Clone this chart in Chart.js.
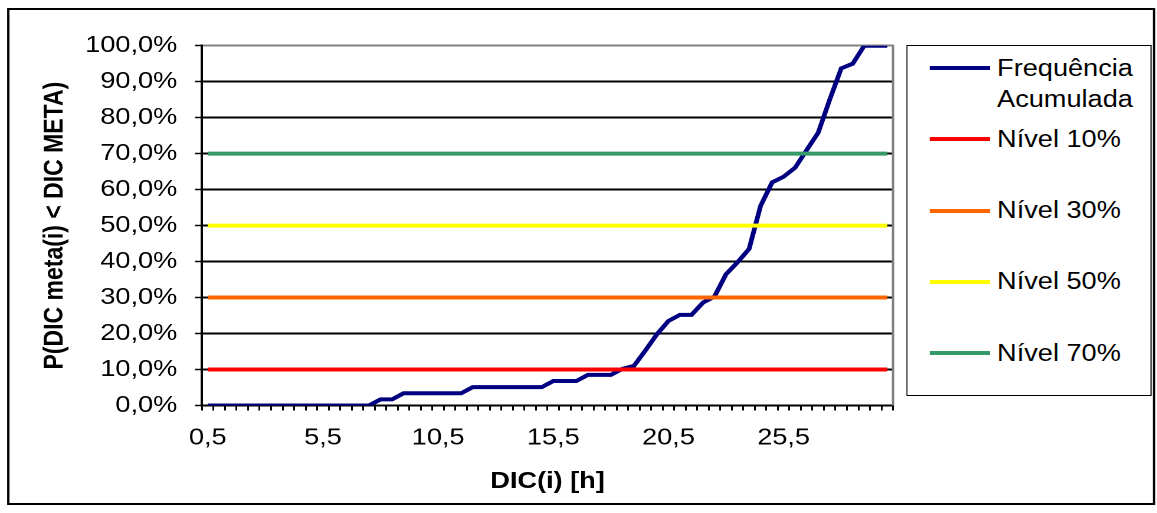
<!DOCTYPE html>
<html lang="pt">
<head>
<meta charset="utf-8">
<title>P(DIC meta(i) &lt; DIC META)</title>
<script src="https://cdn.jsdelivr.net/npm/chart.js@4.4.1/dist/chart.umd.min.js"></script>
<style>
  html, body { margin: 0; padding: 0; background: #fff; }
  /* o gráfico original está esticado na horizontal */
  #wrap { position: relative; width: 980px; height: 513px; transform: scaleX(1.18); transform-origin: 0 0;
          font-family: "Liberation Sans", Arial, sans-serif; }
  #frame { position: absolute; left: 6px; top: 8px; width: 973px; height: 497px; border: 2px solid #000; box-sizing: border-box; }
  #chartBox { position: absolute; left: 0; top: 0; width: 980px; height: 513px; }
  #legend { position: absolute; left: 768px; top: 45px; width: 208px; height: 351px; border: 1.5px solid #000;
            box-sizing: border-box; background: #fff; }
  .item { position: absolute; left: 0; right: 0; }
  .item .swatch { position: absolute; left: 19px; top: 13.5px; width: 51px; height: 4px; }
  .item .txt { position: absolute; left: 76px; right: 2px; top: 0; font-size: 23px; line-height: 31px; color: #000; }
</style>
</head>
<body>
<div id="wrap">
  <div id="frame"></div>
  <div id="chartBox"><canvas id="dicChart"></canvas></div>
  <div id="legend"></div>
</div>
<script>
const categorias = [
    '0,5', '1,0', '1,5', '2,0', '2,5', '3,0', '3,5', '4,0', '4,5', '5,0',
    '5,5', '6,0', '6,5', '7,0', '7,5', '8,0', '8,5', '9,0', '9,5', '10,0',
    '10,5', '11,0', '11,5', '12,0', '12,5', '13,0', '13,5', '14,0', '14,5', '15,0',
    '15,5', '16,0', '16,5', '17,0', '17,5', '18,0', '18,5', '19,0', '19,5', '20,0',
    '20,5', '21,0', '21,5', '22,0', '22,5', '23,0', '23,5', '24,0', '24,5', '25,0',
    '25,5', '26,0', '26,5', '27,0', '27,5', '28,0', '28,5', '29,0', '29,5', '30,0'
];

// frequência acumulada (%)
const freqAcumulada = [
    0, 0, 0, 0, 0, 0, 0, 0, 0, 0,
    0, 0, 0, 0, 0, 1.7, 1.7, 3.4, 3.4, 3.4,
    3.4, 3.4, 3.4, 5.1, 5.1, 5.1, 5.1, 5.1, 5.1, 5.1,
    6.8, 6.8, 6.8, 8.5, 8.5, 8.5, 10.2, 11.0, 15.3, 19.8,
    23.5, 25.2, 25.2, 28.6, 30.3, 36.5, 39.8, 43.5, 55.5, 62.0,
    63.6, 66.1, 71.0, 75.8, 85.0, 93.7, 95.0, 100, 100, 100
];

const niveis = [10, 30, 50, 70];
const coresNiveis = ['#FF0000', '#FF6600', '#FFFF00', '#339966'];

Chart.defaults.font.family = '"Liberation Sans", Arial, sans-serif';
Chart.defaults.font.size = 23;
Chart.defaults.color = '#000';

// linha horizontal do primeiro ao último ponto
function linhaNivel(valor) {
    return [
        { x: categorias[0], y: valor },
        { x: categorias[categorias.length - 1], y: valor }
    ];
}

const datasets = [{
    label: 'Frequência Acumulada',
    data: freqAcumulada,
    borderColor: '#000080',
    backgroundColor: '#000080',
    borderWidth: 4,
    pointRadius: 0,
    tension: 0,
    order: 5
}];

niveis.forEach(function(n, i) {
    datasets.push({
        label: 'Nível ' + n + '%',
        data: linhaNivel(n),
        borderColor: coresNiveis[i],
        backgroundColor: coresNiveis[i],
        borderWidth: 4,
        pointRadius: 0,
        order: 4 - i
    });
});

// borda direita cinza da área de plotagem
const bordaPlot = {
    id: 'bordaPlot',
    beforeDatasetsDraw(chart) {
        const { ctx, chartArea } = chart;
        ctx.save();
        ctx.strokeStyle = '#808080';
        ctx.lineWidth = 2;
        ctx.beginPath();
        ctx.moveTo(chartArea.right, chartArea.top - 1);
        ctx.lineTo(chartArea.right, chartArea.bottom);
        ctx.stroke();
        ctx.restore();
    }
};

const ctx = document.getElementById('dicChart').getContext('2d');

const chart = new Chart(ctx, {
    type: 'line',
    data: {
        labels: categorias,
        datasets: datasets
    },
    options: {
        responsive: true,
        maintainAspectRatio: false,
        animation: false,
        devicePixelRatio: 2,
        layout: {
            padding: { left: 33, top: 45.7, right: 223.2, bottom: 17.5 }
        },
        plugins: {
            legend: { display: false },
            tooltip: { enabled: false }
        },
        scales: {
            x: {
                type: 'category',
                offset: true,
                grid: {
                    offset: true,
                    drawOnChartArea: false,
                    drawTicks: true,
                    tickLength: 5,
                    color: '#000',
                    lineWidth: 1.5
                },
                border: { display: true, color: '#000', width: 2 },
                ticks: {
                    autoSkip: false,
                    maxRotation: 0,
                    minRotation: 0,
                    padding: 14,
                    callback: function(value, index) {
                        return index % 10 === 0 ? categorias[index] : '';
                    }
                },
                title: {
                    display: true,
                    text: 'DIC(i) [h]',
                    font: { weight: 'bold' },
                    padding: 0
                },
                afterFit: function(scale) { scale.height = 90; }
            },
            y: {
                min: 0,
                max: 100,
                ticks: {
                    stepSize: 10,
                    padding: 15,
                    callback: function(value) {
                        return value.toFixed(1).replace('.', ',') + '%';
                    }
                },
                grid: {
                    color: function(c) {
                        return c.tick && c.tick.value === 100 ? '#808080' : '#000';
                    },
                    lineWidth: 2,
                    tickLength: 6,
                    tickColor: '#000',
                    tickWidth: 1.5
                },
                border: { display: true, color: '#000', width: 2 },
                title: {
                    display: true,
                    text: 'P(DIC meta(i) < DIC META)',
                    font: { weight: 'bold' },
                    padding: 0
                },
                afterFit: function(scale) { scale.width = 138.2; }
            }
        }
    },
    plugins: [bordaPlot]
});

// legenda em HTML, feita a partir das séries
const legendEl = document.getElementById('legend');
chart.data.datasets.forEach(function(ds, i) {
    const item = document.createElement('div');
    item.className = 'item';
    item.style.top = (22 + i * 71.25 - 15.5) + 'px';
    const sw = document.createElement('span');
    sw.className = 'swatch';
    sw.style.background = ds.borderColor;
    const txt = document.createElement('span');
    txt.className = 'txt';
    txt.textContent = ds.label;
    item.appendChild(sw);
    item.appendChild(txt);
    legendEl.appendChild(item);
});
</script>
</body>
</html>
